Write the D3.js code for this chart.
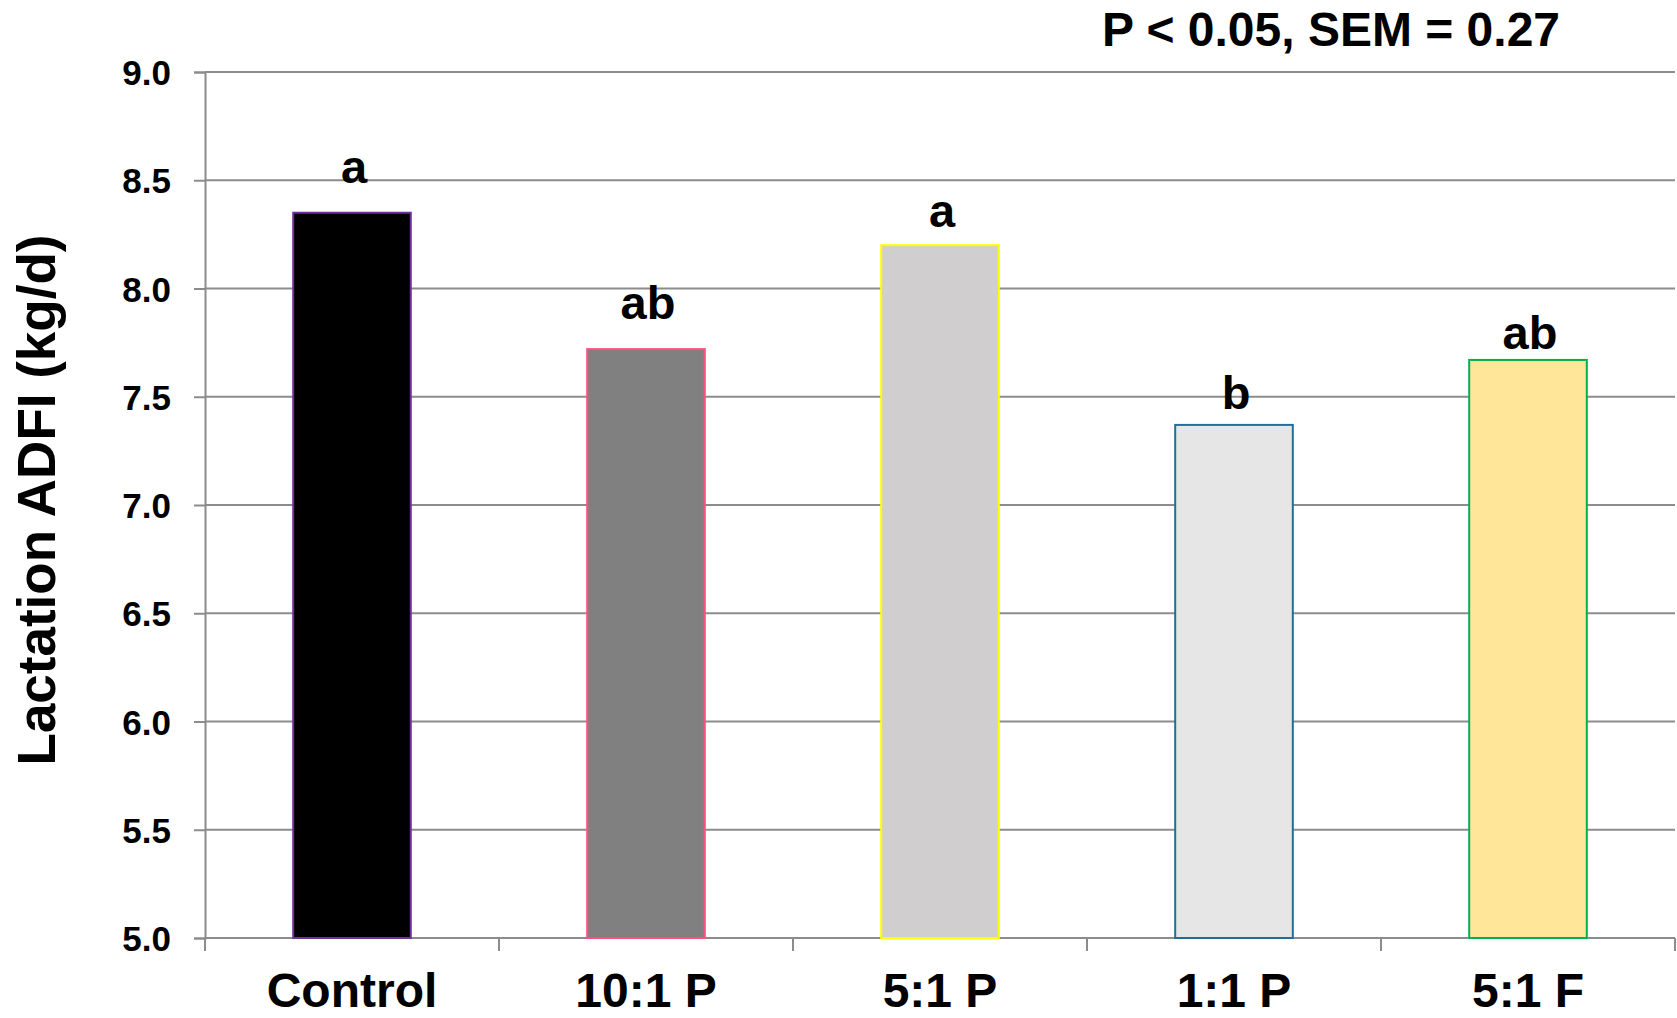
<!DOCTYPE html>
<html>
<head>
<meta charset="utf-8">
<script src="https://cdn.jsdelivr.net/npm/d3@7"></script>
<style>
  html, body { margin: 0; padding: 0; background: #fff; }
  svg text { font-family: "Liberation Sans", Arial, sans-serif; font-weight: bold; fill: #000; }
</style>
</head>
<body>
<script>
// 数据
var categories = ['Control', '10:1 P', '5:1 P', '1:1 P', '5:1 F'];
var values = [8.35, 7.72, 8.20, 7.37, 7.67];
var letters = ['a', 'ab', 'a', 'b', 'ab'];
var yTicks = [5.0, 5.5, 6.0, 6.5, 7.0, 7.5, 8.0, 8.5, 9.0];
var note = 'P < 0.05, SEM = 0.27';
var yTitle = 'Lactation ADFI (kg/d)';

// 样式
var fills = ['#000000', '#808080', '#D0CECE', '#E6E6E6', '#FFE699'];
var strokes = ['#7030A0', '#FF4F81', '#FFFF00', '#1F6E9C', '#00B050'];
// 字母与柱顶的间距(像素)，原图是手动摆放的
var letterGap = [30, 30, 18, 16, 11];

var svgWidth = 1677, svgHeight = 1018;
var margin = { top: 72, right: 2, bottom: 80, left: 205 };

var svg = d3.select('body').append('svg')
  .attr('width', svgWidth)
  .attr('height', svgHeight);

var x = d3.scaleBand()
  .domain(categories)
  .range([margin.left, svgWidth - margin.right])
  .padding(0);

var y = d3.scaleLinear()
  .domain([5, 9])
  .range([svgHeight - margin.bottom, margin.top]);

var gridColor = '#8C8C8C';

// 网格线
svg.append('g').selectAll('line.grid')
  .data(yTicks)
  .join('line')
  .attr('class', 'grid')
  .attr('x1', margin.left)
  .attr('x2', svgWidth - margin.right)
  .attr('y1', d => y(d))
  .attr('y2', d => y(d))
  .attr('stroke', gridColor)
  .attr('stroke-width', 2);

// y轴
var yAxis = svg.append('g')
  .attr('transform', `translate(${margin.left},0)`)
  .call(d3.axisLeft(y).tickValues(yTicks).tickFormat(d3.format('.1f')).tickSize(11).tickPadding(23));
yAxis.select('.domain').attr('stroke', gridColor).attr('stroke-width', 2);
yAxis.selectAll('.tick line').attr('stroke', gridColor).attr('stroke-width', 2);
yAxis.selectAll('.tick text')
  .attr('font-size', 35)
  .attr('dy', '0.36em')
  .style('font-family', '"Liberation Sans", Arial, sans-serif')
  .style('font-weight', 'bold');

// x轴
var baseY = y(5);
var xAxis = svg.append('g')
  .attr('transform', `translate(0,${baseY})`)
  .call(d3.axisBottom(x).tickSize(0).tickPadding(0));
xAxis.select('.domain').remove();
xAxis.selectAll('.tick text')
  .attr('font-size', 48)
  .attr('y', 69)
  .attr('dy', 0)
  .style('font-family', '"Liberation Sans", Arial, sans-serif')
  .style('font-weight', 'bold');

// 类别边界刻度
var bounds = categories.map(c => x(c)).concat([x.range()[1]]);
svg.append('g').selectAll('line')
  .data(bounds)
  .join('line')
  .attr('x1', d => d).attr('x2', d => d)
  .attr('y1', baseY).attr('y2', baseY + 13)
  .attr('stroke', gridColor)
  .attr('stroke-width', 2);

// 柱子
var barW = x.bandwidth() * 0.4;
svg.append('g').selectAll('rect')
  .data(categories)
  .join('rect')
  .attr('x', d => x(d) + (x.bandwidth() - barW) / 2)
  .attr('y', (d, i) => y(values[i]))
  .attr('width', barW)
  .attr('height', (d, i) => y(5) - y(values[i]))
  .attr('fill', (d, i) => fills[i])
  .attr('stroke', (d, i) => strokes[i])
  .attr('stroke-width', 2);

// 显著性字母
svg.append('g').selectAll('text')
  .data(categories)
  .join('text')
  .attr('x', d => x(d) + x.bandwidth() / 2 + 2)
  .attr('y', (d, i) => y(values[i]) - letterGap[i])
  .attr('text-anchor', 'middle')
  .attr('font-size', 47)
  .text((d, i) => letters[i]);

// y轴标题
svg.append('text')
  .attr('transform', 'translate(55,500) rotate(-90)')
  .attr('text-anchor', 'middle')
  .attr('font-size', 53)
  .text(yTitle);

// 右上角说明
svg.append('text')
  .attr('x', 1331)
  .attr('y', 46)
  .attr('text-anchor', 'middle')
  .attr('font-size', 48)
  .text(note);
</script>
</body>
</html>
